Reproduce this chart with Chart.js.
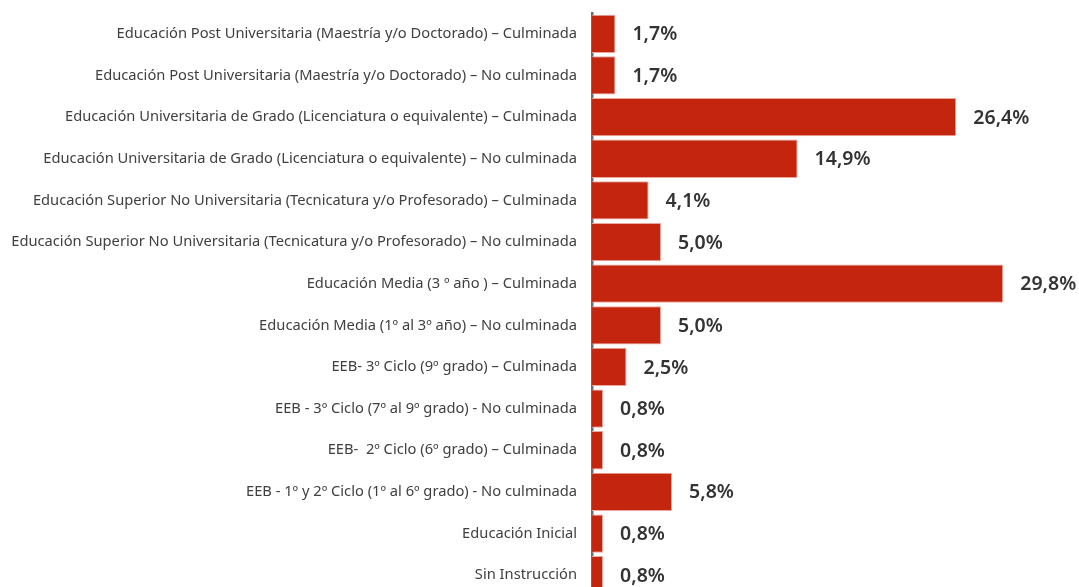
<!DOCTYPE html>
<html><head><meta charset="utf-8">
<script src="https://cdn.jsdelivr.net/npm/chart.js@4.4.1/dist/chart.umd.min.js"></script>
<style>
html,body{margin:0;padding:0;background:#fff;overflow:hidden;}
#wrap{position:relative;width:1079px;height:596px;}
</style></head><body>
<div id="wrap"><canvas id="c"></canvas></div>
<script>
const categories = [
  "Educación Post Universitaria (Maestría y/o Doctorado) – Culminada",
  "Educación Post Universitaria (Maestría y/o Doctorado) – No culminada",
  "Educación Universitaria de Grado (Licenciatura o equivalente) – Culminada",
  "Educación Universitaria de Grado (Licenciatura o equivalente) – No culminada",
  "Educación Superior No Universitaria (Tecnicatura y/o Profesorado) – Culminada",
  "Educación Superior No Universitaria (Tecnicatura y/o Profesorado) – No culminada",
  "Educación Media (3 º año ) – Culminada",
  "Educación Media (1º al 3º año) – No culminada",
  "EEB- 3º Ciclo (9º grado) – Culminada",
  "EEB - 3º Ciclo (7º al 9º grado) - No culminada",
  "EEB-  2º Ciclo (6º grado) – Culminada",
  "EEB - 1º y 2º Ciclo (1º al 6º grado) - No culminada",
  "Educación Inicial",
  "Sin Instrucción"
];
const values = [1.7, 1.7, 26.4, 14.9, 4.1, 5.0, 29.8, 5.0, 2.5, 0.8, 0.8, 5.8, 0.8, 0.8];

const valueLabels = {
  id: 'valueLabels',
  afterDatasetsDraw(chart) {
    const ctx = chart.ctx;
    const meta = chart.getDatasetMeta(0);
    ctx.save();
    ctx.font = '600 19.5px "Noto Sans", sans-serif';
    ctx.fillStyle = '#333333';
    ctx.textAlign = 'left';
    ctx.textBaseline = 'middle';
    meta.data.forEach((bar, i) => {
      const txt = values[i].toFixed(1).replace('.', ',') + '%';
      ctx.fillText(txt, bar.x + 17, bar.y + 1);
    });
    ctx.restore();
  }
};

new Chart(document.getElementById('c'), {
  type: 'bar',
  data: {
    labels: categories,
    datasets: [{
      data: values,
      backgroundColor: '#C3250F',
      borderColor: '#E9A89E',
      borderWidth: 1,
      borderSkipped: 'left',
      categoryPercentage: 1.0,
      barPercentage: 0.92
    }]
  },
  options: {
    indexAxis: 'y',
    responsive: true,
    maintainAspectRatio: false,
    animation: false,
    layout: { padding: { top: 13, right: 4, left: 0, bottom: 0 } },
    plugins: { legend: { display: false }, tooltip: { enabled: false } },
    scales: {
      x: {
        min: 0, max: 35,
        display: false,
        grid: { display: false }
      },
      y: {
        grid: { display: false, drawTicks: false },
        border: { display: true, color: '#6B6B6B', width: 2.5 },
        ticks: {
          color: '#404040',
          padding: 15,
          font: { family: '"Noto Sans", sans-serif', size: 14.7 }
        },
        afterFit(scale) {
          scale.width = 592;
          scale.paddingTop = 0;
          scale.paddingBottom = 0;
        }
      }
    }
  },
  plugins: [valueLabels]
});
</script>
</body></html>
